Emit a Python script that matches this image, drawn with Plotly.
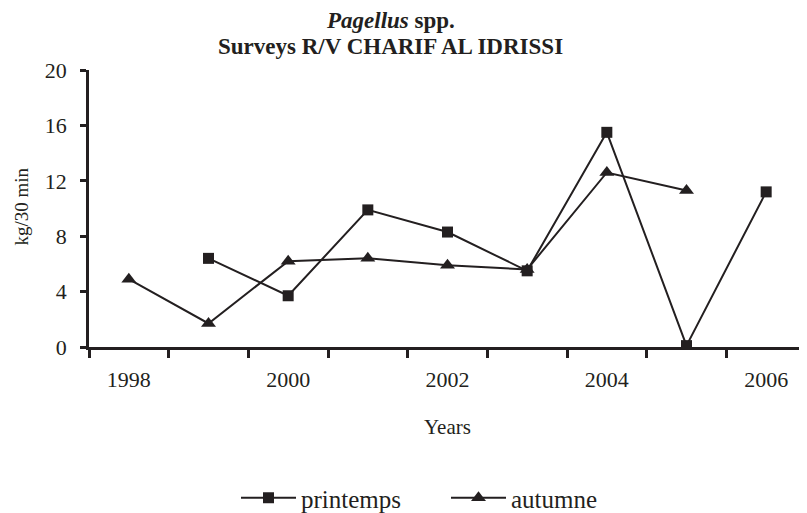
import plotly.graph_objects as go

years = [1998, 1999, 2000, 2001, 2002, 2003, 2004, 2005, 2006]
printemps = [None, 6.4, 3.7, 9.9, 8.3, 5.5, 15.5, 0.1, 11.2]
autumne = [4.9, 1.7, 6.2, 6.4, 5.9, 5.6, 12.6, 11.3, None]
x_tick_vals = [1998, 2000, 2002, 2004, 2006]
y_tick_vals = [0, 4, 8, 12, 16, 20]

INK = "#231f20"
FONT = "Liberation Serif"

# page has an 8px body margin: figure drawn from (8,8)
OFF = 8
L, T, R, B = 89, 70, 806, 347           # plot area in window pixels
W, H = 807 - OFF, 513 - OFF


def px(X):
    return (X - L) / (R - L)


def py(Y):
    return (B - Y) / (B - T)


fig = go.Figure()
fig.add_trace(go.Scatter(
    x=years, y=printemps, name="printemps", mode="lines+markers",
    line=dict(color=INK, width=2),
    marker=dict(symbol="square", size=11, color=INK),
    connectgaps=False,
))
fig.add_trace(go.Scatter(
    x=years, y=autumne, name="autumne", mode="lines+markers",
    line=dict(color=INK, width=2),
    marker=dict(symbol="triangle-up", size=13, color=INK),
    connectgaps=False,
))

fig.update_layout(
    width=W, height=H,
    margin=dict(l=L - OFF, r=W - (R - OFF), t=T - OFF, b=H - (B - OFF), autoexpand=False),
    paper_bgcolor="white", plot_bgcolor="white",
    font=dict(family=FONT, color=INK, size=21),
    showlegend=True,
    legend=dict(orientation="h", x=px(236), xanchor="left", y=py(498), yanchor="middle",
                font=dict(size=25, family=FONT, color=INK), itemwidth=55,
                entrywidth=140, entrywidthmode="pixels", tracegroupgap=0),
    annotations=[
        dict(text="<b><i>Pagellus</i> spp.</b>", xref="paper", yref="paper",
             x=px(390), y=py(20), xanchor="center", yanchor="middle",
             showarrow=False, font=dict(size=23, family=FONT, color=INK)),
        dict(text="<b>Surveys R/V CHARIF AL IDRISSI</b>", xref="paper", yref="paper",
             x=px(390), y=py(46), xanchor="center", yanchor="middle",
             showarrow=False, font=dict(size=23, family=FONT, color=INK)),
        dict(text="Years", xref="paper", yref="paper",
             x=px(447), y=py(427), xanchor="center", yanchor="middle",
             showarrow=False, font=dict(size=21, family=FONT, color=INK)),
        dict(text="kg/30 min", xref="paper", yref="paper", textangle=-90,
             x=px(OFF), y=py(207), xanchor="left", yanchor="middle",
             showarrow=False, font=dict(size=19, family=FONT, color=INK)),
    ],
)

fig.update_xaxes(
    range=[1997.5, 2006.5], tickmode="array", tickvals=x_tick_vals,
    ticks="", showgrid=False, zeroline=False,
    showline=True, linecolor=INK, linewidth=2.5,
    tickfont=dict(size=22, family=FONT, color=INK), ticklabelstandoff=11,
    minor=dict(ticks="outside", tick0=1997.5, dtick=1, ticklen=8, tickwidth=2.5,
               tickcolor=INK, showgrid=False),
)
fig.update_yaxes(
    range=[0, 20], tickmode="array", tickvals=y_tick_vals,
    ticks="outside", ticklen=6, tickwidth=2.5, tickcolor=INK,
    showgrid=False, zeroline=False,
    showline=True, linecolor=INK, linewidth=2.5,
    tickfont=dict(size=22, family=FONT, color=INK), ticklabelstandoff=9,
)

fig.write_html("out.html")
